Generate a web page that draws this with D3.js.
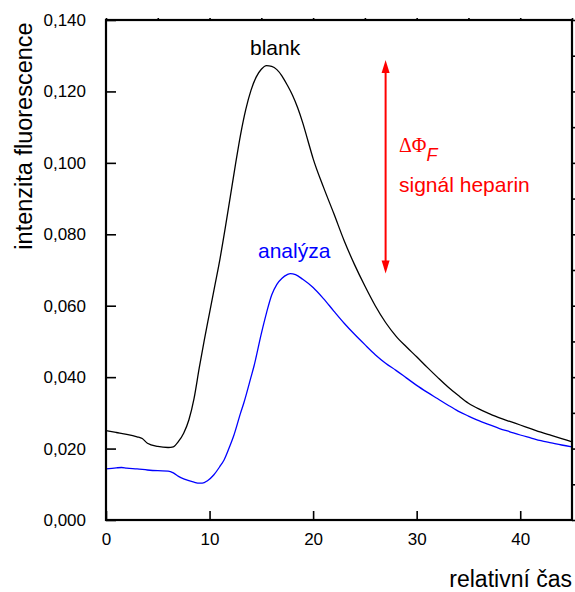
<!DOCTYPE html>
<html>
<head>
<meta charset="utf-8">
<script src="https://cdn.jsdelivr.net/npm/d3@7"></script>
<style>
  body { margin: 0; background: #fff; }
  text { font-family: "Liberation Sans", Arial, sans-serif; }
</style>
</head>
<body>
<div id="chart"></div>
<script>
// blank curve (time, intensity)
const blankTime = [0, 1, 2, 3, 3.5, 4, 5, 6, 6.5, 7, 7.5, 8, 8.5, 9, 9.5, 10, 10.5, 11, 11.5, 12, 12.5, 13, 13.5, 14, 14.5, 15, 15.5, 16, 16.5, 17, 17.5, 18, 18.5, 19, 19.5, 20, 21, 22, 23, 24, 25, 26, 27, 28, 29, 30, 31, 32, 33, 34, 35, 36, 37, 38, 39, 40, 41, 42, 43, 44, 45];
const blankValue = [0.0250, 0.0245, 0.0240, 0.0233, 0.0228, 0.0215, 0.0206, 0.0203, 0.0205, 0.0220, 0.0243, 0.0280, 0.0340, 0.0425, 0.0505, 0.0580, 0.0655, 0.0730, 0.0815, 0.0905, 0.0995, 0.1080, 0.1150, 0.1203, 0.1240, 0.1262, 0.1272, 0.1270, 0.1261, 0.1243, 0.1218, 0.1190, 0.1155, 0.1112, 0.1062, 0.1012, 0.0932, 0.0858, 0.0782, 0.0715, 0.0655, 0.0600, 0.0553, 0.0515, 0.0485, 0.0457, 0.0428, 0.0400, 0.0373, 0.0349, 0.0327, 0.0311, 0.0298, 0.0286, 0.0276, 0.0266, 0.0256, 0.0246, 0.0237, 0.0228, 0.0219];

// analyza curve
const analyzaTime = [0, 1, 1.5, 2, 3, 4, 5, 6, 6.5, 7, 7.5, 8, 8.5, 9, 9.3, 9.8, 10.4, 11, 11.4, 12, 12.3, 13, 13.3, 14, 14.3, 15, 15.5, 16, 16.5, 17, 17.5, 17.8, 18.3, 19, 20, 21, 22, 23, 24, 25, 26, 27, 28, 29, 30, 31, 32, 33, 34, 35, 36, 37, 38, 39, 40, 41, 42, 43, 44, 45];
const analyzaValue = [0.0143, 0.0146, 0.0147, 0.0145, 0.0143, 0.0140, 0.0138, 0.0137, 0.0132, 0.0122, 0.0115, 0.0110, 0.0106, 0.0103, 0.0103, 0.0110, 0.0126, 0.0150, 0.0168, 0.0210, 0.0233, 0.0300, 0.0327, 0.0400, 0.0432, 0.0522, 0.0580, 0.0630, 0.0660, 0.0677, 0.0687, 0.0690, 0.0687, 0.0674, 0.0651, 0.0620, 0.0585, 0.0551, 0.0520, 0.0491, 0.0463, 0.0439, 0.0419, 0.0398, 0.0377, 0.0358, 0.0340, 0.0322, 0.0305, 0.0291, 0.0278, 0.0267, 0.0256, 0.0247, 0.0238, 0.0230, 0.0222, 0.0216, 0.0210, 0.0205];

const xTicks = [0, 10, 20, 30, 40];
const xMinor = [5, 15, 25, 35, 45];
const yTicks = [0, 0.02, 0.04, 0.06, 0.08, 0.10, 0.12, 0.14];
const yMinor = [0.01, 0.03, 0.05, 0.07, 0.09, 0.11, 0.13];

// signal arrow: time, from, to
const arrowTime = [27];
const arrowRange = [0.0690, 0.1288];

const W = 575, H = 592;
const m = { left: 106, top: 20, right: 3, bottom: 72 };

const svg = d3.select("#chart").append("svg")
  .attr("width", W)
  .attr("height", H);

const x = d3.scaleLinear().domain([0, 45]).range([m.left, W - m.right]);
const y = d3.scaleLinear().domain([0, 0.14]).range([H - m.bottom, m.top]);

const fmtY = v => d3.format(".3f")(v).replace(".", ",");

// curves
const line = d3.line().x(d => x(d[0])).y(d => y(d[1])).curve(d3.curveMonotoneX);

svg.append("path")
  .datum(blankTime.map((t, i) => [t, blankValue[i]]))
  .attr("d", line)
  .attr("fill", "none")
  .attr("stroke", "#000")
  .attr("stroke-width", 1.3);

svg.append("path")
  .datum(analyzaTime.map((t, i) => [t, analyzaValue[i]]))
  .attr("d", line)
  .attr("fill", "none")
  .attr("stroke", "#0000ff")
  .attr("stroke-width", 1.3);

// axes: ticks inside on left/bottom
const gBottom = svg.append("g").attr("transform", `translate(0,${y(0)})`);
gBottom.call(d3.axisBottom(x).tickValues(xMinor).tickSize(-5).tickFormat(""));
gBottom.call(d3.axisBottom(x).tickValues(xTicks).tickSize(-9).tickPadding(13).tickFormat(d3.format("d")));

const gLeft = svg.append("g").attr("transform", `translate(${x(0)},0)`);
gLeft.call(d3.axisLeft(y).tickValues(yMinor).tickSize(-6).tickFormat(""));
gLeft.call(d3.axisLeft(y).tickValues(yTicks).tickSize(-10).tickPadding(20).tickFormat(fmtY));

const gTop = svg.append("g").attr("transform", `translate(0,${y(0.14)})`);
gTop.call(d3.axisTop(x).tickValues(xTicks.concat(xMinor)).tickSize(2).tickFormat(""));

const gRight = svg.append("g").attr("transform", `translate(${x(45)},0)`);
gRight.call(d3.axisRight(y).tickValues(yTicks.concat(yMinor)).tickSize(4).tickFormat(""));

svg.selectAll(".domain").remove();
svg.selectAll(".tick line").attr("stroke-width", 1.6);
svg.selectAll(".tick text").attr("font-size", 17).attr("fill", "#000");

// frame
svg.append("rect")
  .attr("x", x(0)).attr("y", y(0.14))
  .attr("width", x(45) - x(0)).attr("height", y(0) - y(0.14))
  .attr("fill", "none").attr("stroke", "#000").attr("stroke-width", 2.2);

// axis titles
svg.append("text")
  .attr("x", W - 3).attr("y", 587)
  .attr("text-anchor", "end")
  .attr("font-size", 23)
  .text("relativní čas");

svg.append("text")
  .attr("transform", "translate(32,136) rotate(-90)")
  .attr("text-anchor", "middle")
  .attr("font-size", 23.5)
  .text("intenzita fluorescence");

// labels
svg.append("text")
  .attr("x", 250).attr("y", 55)
  .attr("font-size", 21)
  .text("blank");

svg.append("text")
  .attr("x", 258).attr("y", 258)
  .attr("font-size", 21)
  .attr("fill", "#0000ff")
  .text("analýza");

// arrow
const ax = x(arrowTime[0]);
const yLo = y(arrowRange[0]), yHi = y(arrowRange[1]);
svg.append("line")
  .attr("x1", ax).attr("x2", ax)
  .attr("y1", yHi + 8).attr("y2", yLo - 8)
  .attr("stroke", "#ff0000").attr("stroke-width", 2);
svg.append("path")
  .attr("d", `M${ax},${yHi} L${ax - 4},${yHi + 13} L${ax + 4},${yHi + 13} Z`)
  .attr("fill", "#ff0000");
svg.append("path")
  .attr("d", `M${ax},${yLo} L${ax - 4},${yLo - 13} L${ax + 4},${yLo - 13} Z`)
  .attr("fill", "#ff0000");

const phi = svg.append("text")
  .attr("x", 399).attr("y", 152)
  .attr("fill", "#ff0000");
phi.append("tspan")
  .attr("font-family", "'Liberation Serif', 'Times New Roman', serif")
  .attr("font-size", 20)
  .text("ΔΦ");
phi.append("tspan")
  .attr("font-style", "italic")
  .attr("font-size", 18)
  .attr("dy", 9)
  .text("F");

svg.append("text")
  .attr("x", 399).attr("y", 192)
  .attr("font-size", 21)
  .attr("fill", "#ff0000")
  .text("signál heparin");
</script>
</body>
</html>
